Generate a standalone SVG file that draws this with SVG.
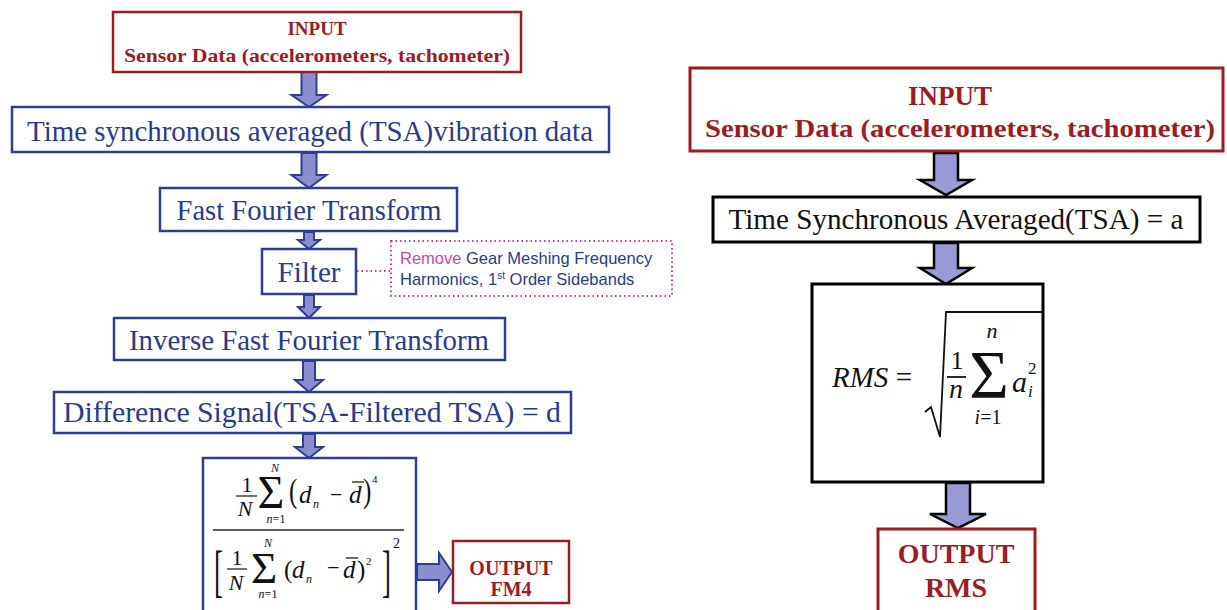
<svg xmlns="http://www.w3.org/2000/svg" width="1227" height="610" viewBox="0 0 1227 610">
<style>
.bg{fill:#ffffff}
.lbox{fill:#ffffff;stroke:#2e3d94;stroke-width:2.5}
.rbox{fill:#ffffff;stroke:#9b1c22;stroke-width:2.5}
.kbox{fill:#ffffff;stroke:#000000;stroke-width:3}
.rbox2{fill:#ffffff;stroke:#9b1c22;stroke-width:3}
.dot{fill:none;stroke:#c23b9c;stroke-width:2;stroke-dasharray:1.5 3}
.larrow{fill:#8a8ecf;stroke:#2f3e94;stroke-width:2;stroke-linejoin:miter}
.karrow{fill:#9a9ad6;stroke:#000000;stroke-width:2.5;stroke-linejoin:miter}
text{font-family:'Liberation Serif','Times New Roman',Times,serif}
.blue{fill:#2a3a8c}
.red{fill:#9b1c22;font-weight:bold}
.blk{fill:#111111}
text.sans{font-family:'Liberation Sans',Arial,sans-serif;font-size:16.5px}
.it{font-style:italic}
.mline{stroke:#222;stroke-width:1.3}
.mline2{stroke:#111;stroke-width:1.8}
</style>
<rect class="bg" x="0" y="0" width="1227" height="610"/>

<g id="connectors">
  <path class="larrow" d="M301.5,72 H316.5 V95 H326.5 L309,107 L291.5,95 H301.5 Z"/>
  <path class="larrow" d="M301.5,153 H316.5 V175 H326.5 L309,188 L291.5,175 H301.5 Z"/>
  <path class="larrow" d="M304,232 H314 V240 H320 L309,249 L298,240 H304 Z"/>
  <path class="larrow" d="M304,295 H314 V307 H320 L309,318 L298,307 H304 Z"/>
  <path class="larrow" d="M303,361 H315 V380 H323 L309,392 L295,380 H303 Z"/>
  <path class="larrow" d="M303,434 H315 V447 H323 L309,458 L295,447 H303 Z"/>
  <path class="larrow" d="M417,564 H439 V553 L452,572 L439,591 V580 H417 Z"/>
  <line class="dot" x1="357" y1="271" x2="390" y2="271"/>
  <path class="karrow" d="M934,153 H958 V180 H972 L946,195 L920,180 H934 Z"/>
  <path class="karrow" d="M934,243 H958 V268 H972 L946,284 L920,268 H934 Z"/>
  <path class="karrow" d="M946,483 H970 V514 H986 L958,528 L930,514 H946 Z"/>
</g>

<g id="l-input">
  <rect class="rbox" x="113" y="12" width="408" height="60"/>
  <text class="red" x="317" y="35" font-size="19" text-anchor="middle">INPUT</text>
  <text class="red" x="317" y="62" font-size="19" text-anchor="middle" textLength="386" lengthAdjust="spacingAndGlyphs">Sensor Data (accelerometers, tachometer)</text>
</g>

<g id="l-tsa">
  <rect class="lbox" x="12" y="107" width="597" height="45"/>
  <text class="blue" x="310" y="141" font-size="30" text-anchor="middle" textLength="566" lengthAdjust="spacingAndGlyphs">Time synchronous averaged (TSA)vibration data</text>
</g>

<g id="l-fft">
  <rect class="lbox" x="160" y="188" width="297" height="43"/>
  <text class="blue" x="309" y="220" font-size="30" text-anchor="middle" textLength="265" lengthAdjust="spacingAndGlyphs">Fast Fourier Transform</text>
</g>

<g id="l-filter">
  <rect class="lbox" x="262" y="249" width="94" height="45"/>
  <text class="blue" x="309" y="282" font-size="30" text-anchor="middle" textLength="63" lengthAdjust="spacingAndGlyphs">Filter</text>
</g>

<g id="l-note">
  <rect class="dot" x="391" y="241" width="281" height="55"/>
  <text class="sans" x="400" y="264"><tspan fill="#c94aa0">Remove</tspan><tspan fill="#2a3a8c"> Gear Meshing Frequency</tspan></text>
  <text class="sans" x="400" y="285" fill="#2a3a8c">Harmonics, 1<tspan font-size="10" dy="-6">st</tspan><tspan dy="6"> Order Sidebands</tspan></text>
</g>

<g id="l-ifft">
  <rect class="lbox" x="114" y="318" width="391" height="42"/>
  <text class="blue" x="309" y="350" font-size="30" text-anchor="middle" textLength="360" lengthAdjust="spacingAndGlyphs">Inverse Fast Fourier Transform</text>
</g>

<g id="l-diff">
  <rect class="lbox" x="54" y="392" width="517" height="41"/>
  <text class="blue" x="312" y="422" font-size="30" text-anchor="middle" textLength="498" lengthAdjust="spacingAndGlyphs">Difference Signal(TSA-Filtered TSA) = d</text>
</g>

<g id="l-fm4formula">
  <rect class="lbox" x="203" y="458" width="213" height="160"/>
  <g class="blk">
    <text x="247" y="492" font-size="22" text-anchor="middle">1</text>
    <line class="mline" x1="236" y1="496" x2="257" y2="496"/>
    <text class="it" x="245" y="516" font-size="22" text-anchor="middle">N</text>
    <text x="271" y="508" font-size="46" text-anchor="middle">Σ</text>
    <text class="it" x="275" y="472" font-size="12" text-anchor="middle">N</text>
    <text x="276" y="523" font-size="12" text-anchor="middle"><tspan font-style="italic">n</tspan>=1</text>
    <text transform="translate(289,502) scale(1,1.35)" font-size="25">(</text>
    <text class="it" x="299" y="503" font-size="25">d</text>
    <text class="it" x="313" y="508" font-size="12">n</text>
    <text x="330" y="502" font-size="22">−</text>
    <text class="it" x="349" y="503" font-size="25">d</text>
    <line class="mline" x1="352" y1="482" x2="364" y2="482"/>
    <text transform="translate(363,502) scale(1,1.35)" font-size="25">)</text>
    <text x="372" y="483" font-size="11">4</text>
    <line class="mline" x1="213" y1="530" x2="404" y2="530"/>
    <text transform="translate(214,590) scale(1,2.1)" font-size="27">[</text>
    <text x="237" y="565" font-size="22" text-anchor="middle">1</text>
    <line class="mline" x1="227" y1="569" x2="247" y2="569"/>
    <text class="it" x="236" y="590" font-size="22" text-anchor="middle">N</text>
    <text x="264" y="583" font-size="45" text-anchor="middle">Σ</text>
    <text class="it" x="268" y="547" font-size="12" text-anchor="middle">N</text>
    <text x="268" y="598" font-size="12" text-anchor="middle"><tspan font-style="italic">n</tspan>=1</text>
    <text x="284" y="578" font-size="25">(</text>
    <text class="it" x="292" y="578" font-size="25">d</text>
    <text class="it" x="306" y="583" font-size="12">n</text>
    <text x="327" y="575" font-size="22">−</text>
    <text class="it" x="343" y="578" font-size="25">d</text>
    <line class="mline" x1="346" y1="558" x2="358" y2="558"/>
    <text x="357" y="578" font-size="25">)</text>
    <text x="366" y="565" font-size="11">2</text>
    <text transform="translate(382,590) scale(1,2.1)" font-size="27">]</text>
    <text x="393" y="548" font-size="14">2</text>
  </g>
</g>

<g id="l-output">
  <rect class="rbox" x="453" y="541" width="116" height="62"/>
  <text class="red" x="511" y="575" font-size="20" text-anchor="middle">OUTPUT</text>
  <text class="red" x="511" y="596" font-size="20" text-anchor="middle">FM4</text>
</g>

<g id="r-input">
  <rect class="rbox2" x="690" y="68" width="533" height="83"/>
  <text class="red" x="950" y="105" font-size="27" text-anchor="middle">INPUT</text>
  <text class="red" x="960" y="137" font-size="26" text-anchor="middle" textLength="510" lengthAdjust="spacingAndGlyphs">Sensor Data (accelerometers, tachometer)</text>
</g>

<g id="r-tsa">
  <rect class="kbox" x="713" y="197" width="487" height="45"/>
  <text class="blk" x="956" y="229" font-size="29" text-anchor="middle" textLength="455" lengthAdjust="spacingAndGlyphs">Time Synchronous Averaged(TSA) = a</text>
</g>

<g id="r-rms">
  <rect class="kbox" x="812" y="284" width="231" height="198"/>
  <g class="blk">
    <text x="832" y="387" font-size="29"><tspan font-style="italic">RMS</tspan> =</text>
    <path d="M925,412 L931,407 L940,437 L946,312 H1042" fill="none" stroke="#111" stroke-width="1.8"/>
    <text x="957" y="369" font-size="26" text-anchor="middle">1</text>
    <line class="mline2" x1="947" y1="377" x2="966" y2="377"/>
    <text class="it" x="956" y="398" font-size="28" text-anchor="middle">n</text>
    <text x="989" y="397" font-size="68" text-anchor="middle">Σ</text>
    <text class="it" x="992" y="338" font-size="22" text-anchor="middle">n</text>
    <text x="988" y="424" font-size="20" text-anchor="middle"><tspan font-style="italic">i</tspan>=1</text>
    <text class="it" x="1012" y="392" font-size="30">a</text>
    <text x="1028" y="374" font-size="17">2</text>
    <text class="it" x="1028" y="397" font-size="17">i</text>
  </g>
</g>

<g id="r-output">
  <rect class="rbox2" x="878" y="529" width="157" height="90"/>
  <text class="red" x="956" y="563" font-size="28" text-anchor="middle">OUTPUT</text>
  <text class="red" x="956" y="597" font-size="28" text-anchor="middle">RMS</text>
</g>
</svg>
